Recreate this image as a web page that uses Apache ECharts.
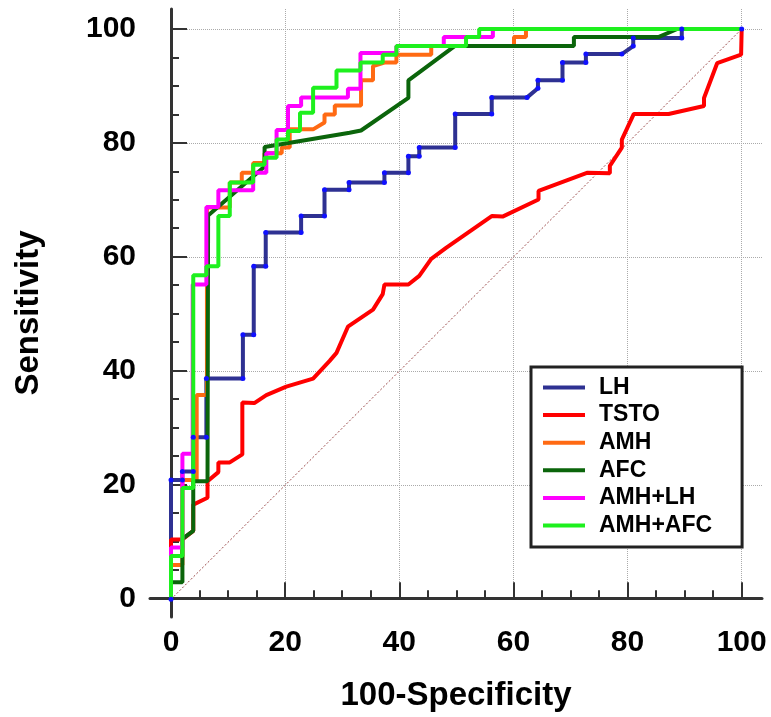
<!DOCTYPE html>
<html>
<head>
<meta charset="utf-8">
<title>ROC curves</title>
<script src="https://cdn.jsdelivr.net/npm/echarts@6.0.0/dist/echarts.min.js"></script>
<style>
  html, body { margin: 0; padding: 0; background: #fff; }
  #chart { width: 771px; height: 717px; }
</style>
</head>
<body>
<div id="chart"></div>
<script>
// ROC points, [100-Specificity, Sensitivity]
const lhPoints = [
  [0, 0], [0, 20.9], [2.0, 20.9], [2.0, 22.4], [3.9, 22.4], [3.9, 28.4], [6.2, 28.4],
  [6.2, 38.7], [12.6, 38.7], [12.6, 46.4], [14.5, 46.4], [14.5, 58.4], [16.6, 58.4],
  [16.6, 64.3], [22.8, 64.3], [22.8, 67.2], [26.9, 67.2], [26.9, 71.8], [31.2, 71.8],
  [31.2, 73.1], [37.4, 73.1], [37.4, 74.8], [41.6, 74.8], [41.6, 77.7], [43.5, 77.7],
  [43.5, 79.2], [49.8, 79.2], [49.8, 85.1], [56.2, 85.1], [56.2, 88.0], [62.4, 88.0],
  [64.3, 89.6], [64.3, 91.0], [68.6, 91.0], [68.6, 94.1], [72.7, 94.1], [72.7, 95.6],
  [79.0, 95.6], [81.0, 97.0], [81.0, 98.4], [89.5, 98.4], [89.5, 100], [100, 100]
]
const tstoPoints = [
  [0, 0], [0, 10.5], [2.0, 10.5], [3.9, 12.0], [3.9, 16.6], [6.4, 17.8], [6.4, 20.7],
  [8.3, 22.3], [8.3, 24.0], [10.3, 24.0], [12.5, 25.4], [12.5, 34.5], [14.6, 34.4],
  [16.7, 35.8], [20.2, 37.3], [24.9, 38.7], [27.8, 41.8], [29.0, 43.2], [31.0, 47.8],
  [35.4, 50.8], [37.1, 53.5], [37.4, 55.2], [41.6, 55.2], [43.5, 56.7], [45.6, 59.7],
  [48.2, 61.6], [56.2, 67.2], [58.1, 67.1], [64.4, 70.1], [64.4, 71.6], [73.0, 74.8],
  [76.9, 74.7], [76.9, 76.0], [79.0, 79.2], [79.0, 80.6], [81.1, 85.1], [87.2, 85.1],
  [93.4, 86.5], [93.4, 87.9], [95.7, 94.0], [99.9, 95.5], [100, 100]
]
const amhPoints = [
  [0, 0], [0, 6.0], [2.0, 6.0], [2.0, 20.9], [4.5, 20.9], [4.5, 35.8], [6.3, 35.8],
  [6.3, 68.7], [10.3, 68.7], [10.3, 73.1], [12.4, 73.1], [12.4, 74.8], [14.4, 74.8],
  [14.4, 76.5], [16.4, 76.5], [16.4, 78.2], [19.4, 78.2], [19.4, 79.2], [20.8, 79.2],
  [20.8, 82.4], [24.9, 82.4], [26.9, 83.6], [26.9, 85.0], [28.7, 85.0], [28.7, 86.6],
  [33.3, 86.6], [33.3, 91.0], [35.4, 91.0], [35.4, 93.5], [37.4, 94.1], [39.5, 94.1],
  [39.5, 95.5], [45.6, 95.5], [45.6, 97.0], [60.1, 97.0], [60.1, 98.6], [62.2, 98.6],
  [62.2, 100], [100, 100]
]
const afcPoints = [
  [0, 0], [0, 3.0], [2.0, 3.0], [2.0, 10.6], [3.9, 12.0], [3.9, 20.7], [6.4, 20.7],
  [6.5, 67.3], [16.4, 75.9], [16.4, 79.3], [31.3, 81.8], [33.3, 82.2], [41.6, 87.9],
  [41.6, 91.0], [49.7, 97.0], [70.6, 97.0], [70.6, 98.6], [85.5, 98.6], [88.7, 100],
  [100, 100]
]
const amhLhPoints = [
  [0, 0], [0, 9.1], [2.0, 9.1], [2.0, 25.5], [3.8, 25.5], [3.8, 55.2], [6.2, 55.2],
  [6.2, 68.8], [8.3, 68.8], [8.3, 71.7], [14.4, 71.7], [14.4, 74.8], [16.7, 74.8],
  [16.7, 78.2], [18.5, 78.2], [18.5, 82.3], [20.5, 82.3], [20.5, 86.5], [22.8, 86.5],
  [22.8, 88.0], [31.0, 88.0], [31.0, 89.5], [33.2, 89.5], [33.2, 95.8], [39.5, 95.8],
  [39.5, 97.0], [47.8, 97.0], [47.8, 98.6], [56.4, 98.6], [56.4, 100], [100, 100]
]
const amhAfcPoints = [
  [0, 0], [0, 7.6], [2.0, 7.6], [2.0, 19.5], [3.9, 19.5], [3.9, 56.8], [6.2, 56.8],
  [6.2, 58.4], [8.3, 58.4], [8.3, 67.2], [10.3, 67.2], [10.3, 73.1], [14.4, 73.1],
  [14.4, 76.2], [16.4, 76.2], [16.4, 77.4], [18.5, 77.4], [18.5, 80.6], [20.5, 80.6],
  [20.5, 82.1], [22.6, 82.1], [22.6, 85.3], [24.9, 85.3], [24.9, 89.7], [29.0, 89.7],
  [29.0, 92.7], [33.2, 92.7], [33.2, 94.1], [37.1, 94.1], [37.1, 95.5], [39.5, 95.5],
  [39.5, 97.0], [51.7, 97.0], [51.7, 98.6], [54.0, 98.6], [54.0, 100], [100, 100]
]
const chanceLine = [[0, 0], [100, 100]]

const seriesNames = ['LH', 'TSTO', 'AMH', 'AFC', 'AMH+LH', 'AMH+AFC']
const seriesColors = ['#2E3192', '#FF0000', '#FF6A13', '#0B650B', '#FF00FF', '#1EF01E']
const seriesData = [lhPoints, tstoPoints, amhPoints, afcPoints, amhLhPoints, amhAfcPoints]

const majorTicks = [0, 20, 40, 60, 80, 100]
const minorTicks = [5, 10, 15, 25, 30, 35, 45, 50, 55, 65, 70, 75, 85, 90, 95]

const FONT = '"Liberation Sans", Arial, sans-serif'

// grid 0 = plot area (gridlines + curves), grid 1 = offset frame with axes
const X_MAX = 103.56
const Y_MAX = 103.5
const X_FRAME_MIN = -3.68
const Y_FRAME_MIN = -3.28

function frameAxis(dim, extra) {
  return Object.assign({
    type: 'value',
    gridIndex: 1,
    min: dim === 'x' ? X_FRAME_MIN : Y_FRAME_MIN,
    max: dim === 'x' ? X_MAX : Y_MAX,
    position: dim === 'x' ? 'bottom' : 'left',
    splitLine: { show: false },
  }, extra)
}

const chart = echarts.init(document.getElementById('chart'))

const option = {
  animation: false,
  backgroundColor: '#fff',
  grid: [
    { left: 171, right: 9, top: 9, bottom: 117.7 },
    { left: 150, right: 9, top: 9, bottom: 99 },
  ],
  legend: {
    // legend swatches use the line colour, not the LH dot colour
    data: seriesNames.map((name, i) => ({ name, itemStyle: { color: seriesColors[i] } })),
    orient: 'vertical',
    left: 531,
    top: 367,
    padding: [9, 30, 10, 12],
    itemWidth: 42,
    itemHeight: 4,
    itemGap: 4.6,
    icon: 'rect',
    borderColor: '#222',
    borderWidth: 3,
    backgroundColor: '#fff',
    textStyle: {
      fontFamily: FONT,
      fontSize: 23,
      fontWeight: 'bold',
      color: '#000',
      lineHeight: 23,
      padding: [0, 0, 0, 9],
    },
  },
  xAxis: [
    {
      type: 'value',
      gridIndex: 0,
      min: 0,
      max: X_MAX,
      interval: 20,
      axisLine: { show: false },
      axisTick: { show: false },
      axisLabel: { show: false },
      splitLine: {
        show: true,
        showMaxLine: false,
        lineStyle: { color: '#aaa', type: 'dotted', width: 1 },
      },
    },
    frameAxis('x', {
      name: '100-Specificity',
      nameLocation: 'middle',
      nameGap: 62,
      nameTextStyle: { fontFamily: FONT, fontSize: 33, fontWeight: 'bold', color: '#000' },
      axisLine: { show: true, lineStyle: { color: '#333', width: 3 } },
      axisTick: { show: true, inside: true, length: 16, customValues: majorTicks, lineStyle: { color: '#333', width: 2 } },
      axisLabel: {
        show: true,
        customValues: majorTicks,
        margin: 11,
        fontFamily: FONT,
        fontSize: 30,
        fontWeight: 'bold',
        color: '#000',
      },
    }),
    frameAxis('x', {
      axisLine: { show: false },
      axisTick: { show: true, inside: true, length: 8, customValues: minorTicks, lineStyle: { color: '#333', width: 2 } },
      axisLabel: { show: false },
    }),
  ],
  yAxis: [
    {
      type: 'value',
      gridIndex: 0,
      min: 0,
      max: Y_MAX,
      interval: 20,
      axisLine: { show: false },
      axisTick: { show: false },
      axisLabel: { show: false },
      splitLine: {
        show: true,
        showMaxLine: false,
        lineStyle: { color: '#aaa', type: 'dotted', width: 1 },
      },
    },
    frameAxis('y', {
      name: 'Sensitivity',
      nameLocation: 'middle',
      nameGap: 105,
      nameTextStyle: { fontFamily: FONT, fontSize: 33, fontWeight: 'bold', color: '#000' },
      axisLine: { show: true, lineStyle: { color: '#333', width: 3 } },
      axisTick: { show: true, inside: true, length: 16, customValues: majorTicks, lineStyle: { color: '#333', width: 2 } },
      axisLabel: {
        show: true,
        customValues: majorTicks,
        margin: 14,
        fontFamily: FONT,
        fontSize: 30,
        fontWeight: 'bold',
        color: '#000',
      },
    }),
    frameAxis('y', {
      axisLine: { show: false },
      axisTick: { show: true, inside: true, length: 8, customValues: minorTicks, lineStyle: { color: '#333', width: 2 } },
      axisLabel: { show: false },
    }),
  ],
  series: [
    {
      name: 'chance',
      type: 'line',
      data: chanceLine,
      showSymbol: false,
      silent: true,
      lineStyle: { color: '#9a4a4a', width: 1, type: [2, 2] },
    },
  ].concat(seriesNames.map((name, i) => ({
    name,
    type: 'line',
    data: seriesData[i],
    showSymbol: name === 'LH',
    symbol: 'circle',
    symbolSize: 5,
    itemStyle: { color: name === 'LH' ? '#1010ff' : seriesColors[i] },
    lineStyle: { color: seriesColors[i], width: 4 },
  }))),
}

chart.setOption(option)
</script>
</body>
</html>
